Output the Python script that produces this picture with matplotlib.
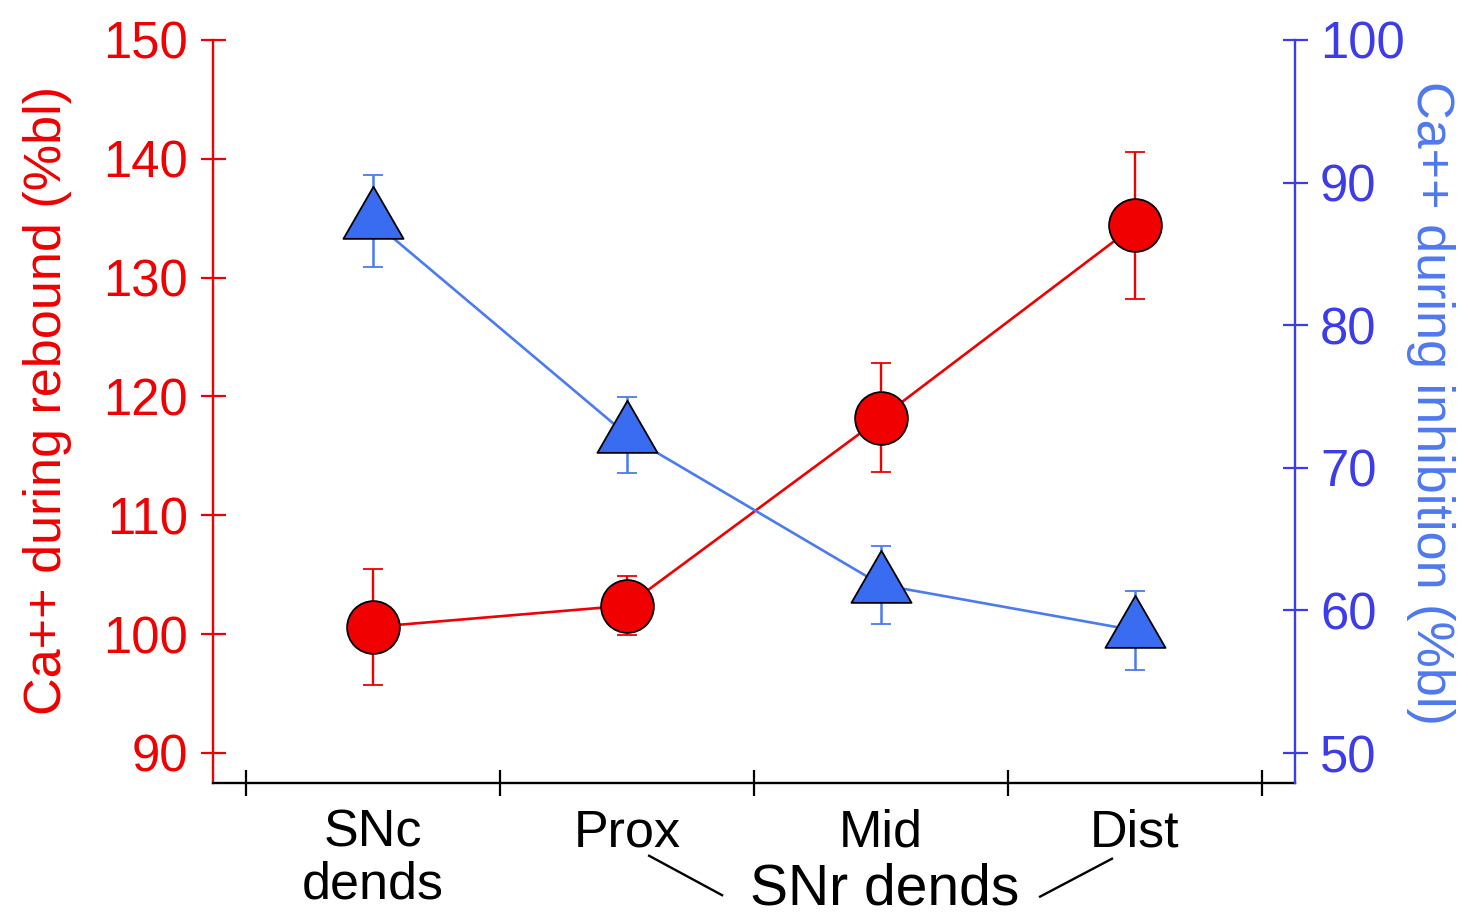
import numpy as np
import matplotlib
matplotlib.use("Agg")
import matplotlib.pyplot as plt
from matplotlib.path import Path

# ---- data -------------------------------------------------------------
categories = ["SNc\ndends", "Prox", "Mid", "Dist"]
rebound_mean = [100.6, 102.4, 118.2, 134.4]     # Ca++ during rebound (%bl)
rebound_sem = [4.9, 2.45, 4.6, 6.2]
inhib_mean = [87.3, 72.3, 61.8, 58.6]           # Ca++ during inhibition (%bl)
inhib_sem = [3.2, 2.65, 2.75, 2.75]
left_ticks = [90, 100, 110, 120, 130, 140, 150]
right_ticks = [50, 60, 70, 80, 90, 100]
group_label = "SNr dends"

# ---- style ------------------------------------------------------------
plt.rcParams["font.family"] = ["Liberation Sans", "DejaVu Sans"]
RED = "#F00000"
AX_BLUE = "#3C3CE8"
LINE_BLUE = "#4A7BF0"
FILL_BLUE = "#3A6CF2"
LABEL_BLUE = "#4F78F0"

# equilateral triangle centred on its centroid
tri = Path([(0, 1), (-0.866, -0.5), (0.866, -0.5), (0, 1)],
           [Path.MOVETO, Path.LINETO, Path.LINETO, Path.CLOSEPOLY])

fig = plt.figure(figsize=(14.68, 9.15), dpi=100)
ax = fig.add_axes([0.1451, 0.1443, 0.7371, 0.8120])
ax2 = ax.twinx()

x = np.arange(len(categories))

ax.errorbar(x, rebound_mean, yerr=rebound_sem, color=RED, lw=1.9,
            elinewidth=1.7, capsize=7.4, capthick=1.7,
            marker="o", ms=38, mfc=RED, mec="black", mew=1.3, zorder=3)

ax2.errorbar(x, inhib_mean, yerr=inhib_sem, color=LINE_BLUE, lw=1.9,
             elinewidth=1.8, capsize=7.4, capthick=1.8,
             marker=tri, ms=50, mfc=FILL_BLUE, mec="black", mew=1.3, zorder=3)

# ---- axes limits & spines --------------------------------------------
ax.set_xlim(-0.63, 3.63)
ax.set_ylim(87.47, 150)
ax2.set_ylim(47.9, 100)

for a in (ax, ax2):
    a.spines["top"].set_visible(False)
    for s in a.spines.values():
        s.set_linewidth(1.7)
ax.spines["right"].set_visible(False)
ax2.spines["left"].set_visible(False)
ax2.spines["bottom"].set_visible(False)
ax.spines["left"].set_color(RED)
ax2.spines["right"].set_color(AX_BLUE)
ax.spines["bottom"].set_color("black")
ax.spines["left"].set_bounds(87.47, 150)
ax2.spines["right"].set_bounds(47.9, 100)

# ---- y ticks ----------------------------------------------------------
ax.set_yticks(left_ticks)
ax.tick_params(axis="y", direction="inout", length=18, width=1.6,
               colors=RED, labelsize=36.5, pad=9)
ax2.set_yticks(right_ticks)
ax2.tick_params(axis="y", direction="inout", length=18, width=1.6,
                colors=AX_BLUE, labelsize=36.5, pad=9)

# ---- x ticks: boundaries as major ticks, names as minor labels --------
ax.set_xticks(np.arange(len(categories) + 1) - 0.5)
ax.set_xticklabels([])
ax.tick_params(axis="x", which="major", direction="inout", length=19,
               width=1.6, colors="black")
ax.set_xticks(x, minor=True)
ax.set_xticklabels(categories, minor=True)
ax.tick_params(axis="x", which="minor", length=0, pad=18.5, labelsize=37.5)
for lbl in ax.get_xticklabels(minor=True):
    lbl.set_linespacing(1.08)
    lbl.set_multialignment("center")

# ---- axis labels -----------------------------------------------------
ax.set_ylabel("Ca++ during rebound (%bl)", color=RED, fontsize=37.5)
ax.yaxis.label.set_va("center")
ax.yaxis.set_label_coords(-0.1534, 0.515)
ax2.set_ylabel("Ca++ during inhibition (%bl)", color=LABEL_BLUE,
               fontsize=37.5, rotation=270)
ax2.yaxis.label.set_va("center")
ax2.yaxis.set_label_coords(1.1248, 0.512)

# ---- group label with connector strokes -------------------------------
xt = ax.get_xaxis_transform()
ax.text(2.016, -0.164, group_label, transform=xt, ha="center",
        va="baseline", fontsize=41, color="black")
ax.plot([1.087, 1.374], [-0.098, -0.151], transform=xt, color="black",
        lw=1.7, clip_on=False)
ax.plot([2.626, 2.909], [-0.153, -0.102], transform=xt, color="black",
        lw=1.7, clip_on=False)

fig.savefig("out.png", dpi=100, facecolor="white")
